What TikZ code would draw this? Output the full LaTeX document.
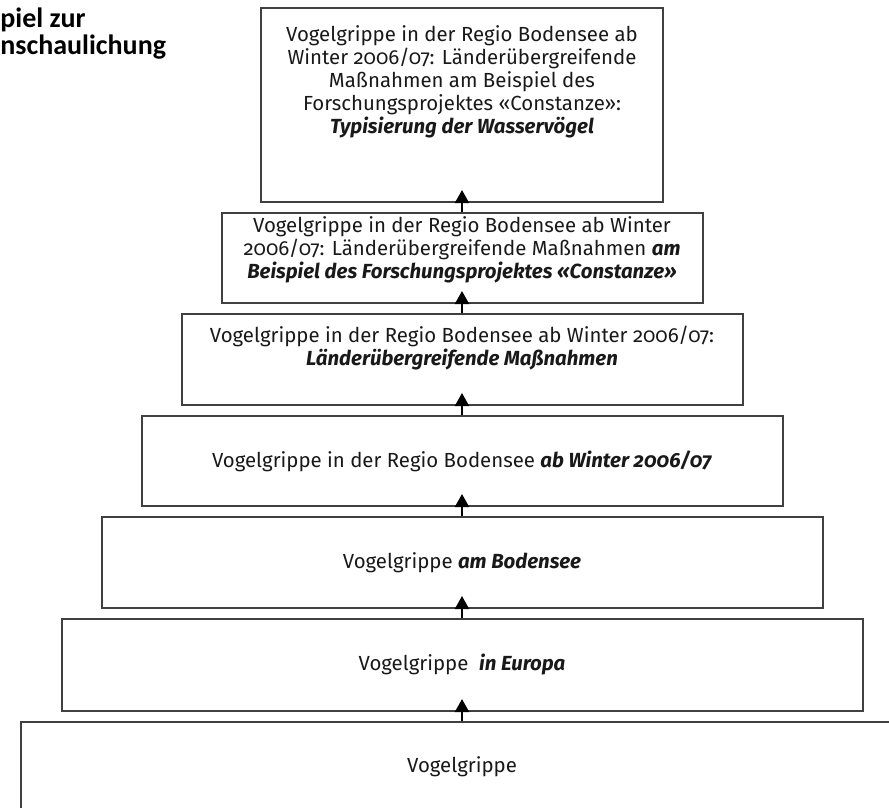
\documentclass[tikz,border=0pt]{standalone}
\usepackage{fontspec}
\setmainfont{Fira Sans}[Numbers=OldStyle]
\newfontfamily\labelfont{Carlito}
\usetikzlibrary{arrows.meta, positioning}
\tikzstyle{stufe} = [rectangle, draw=black!75, line width=1pt, align=center, inner ysep=1pt, text=black!90, font=\fontsize{10.2pt}{11.5pt}\selectfont]
\tikzstyle{arrow} = [line width=1pt, -{Triangle[length=6.5pt,width=7pt]}, shorten >=-6.5pt]
\newcommand{\tiefer}[1]{\rule[-#1]{0pt}{#1}}
\newcommand{\hervor}[1]{\textbf{\textit{#1}}}

\begin{document}
\begin{tikzpicture}[node distance=4.5pt]
\useasboundingbox (0,0) rectangle (444.5pt,-404pt);

\node (titel) [anchor=north west, align=left, inner sep=0pt, font=\labelfont\bfseries\fontsize{14pt}{13.5pt}\selectfont] at (0pt,-3.5pt) {piel zur\\nschaulichung};

\node (vogelgrippe) [stufe, minimum width=441pt, minimum height=45pt] at (231pt,-383.5pt) {Vogelgrippe};

\node (europa) [stufe, minimum width=400.5pt, minimum height=46pt, above=of vogelgrippe] {Vogelgrippe\ \ \hervor{in Europa}};

\node (bodensee) [stufe, minimum width=360.5pt, minimum height=45.5pt, above=of europa] {Vogelgrippe \hervor{am Bodensee}};

\node (winter) [stufe, minimum width=320.5pt, minimum height=45pt, above=of bodensee] {Vogelgrippe in der Regio Bodensee \hervor{ab Winter 2006/07}};

\node (massnahmen) [stufe, minimum width=280.5pt, minimum height=45.5pt, above=of winter] {Vogelgrippe in der Regio Bodensee ab Winter 2006/07:\\
\hervor{Länderübergreifende Maßnahmen}\tiefer{13.5pt}};

\node (projekt) [stufe, minimum width=240.5pt, minimum height=45pt, above=of massnahmen] {Vogelgrippe in der Regio Bodensee ab Winter\\
2006/07: Länderübergreifende Maßnahmen \hervor{am}\\
\hervor{Beispiel des Forschungsprojektes «Constanze»}\tiefer{10.5pt}};

\node (typisierung) [stufe, minimum width=201pt, minimum height=97pt, above=of projekt] {Vogelgrippe in der Regio Bodensee ab\\
Winter 2006/07: Länderübergreifende\\
Maßnahmen am Beispiel des\\
Forschungsprojektes «Constanze»:\\
\hervor{Typisierung der Wasservögel}\tiefer{25.5pt}};

\draw [arrow] (vogelgrippe) -- (europa);
\draw [arrow] (europa) -- (bodensee);
\draw [arrow] (bodensee) -- (winter);
\draw [arrow] (winter) -- (massnahmen);
\draw [arrow] (massnahmen) -- (projekt);
\draw [arrow] (projekt) -- (typisierung);

\end{tikzpicture}
\end{document}
